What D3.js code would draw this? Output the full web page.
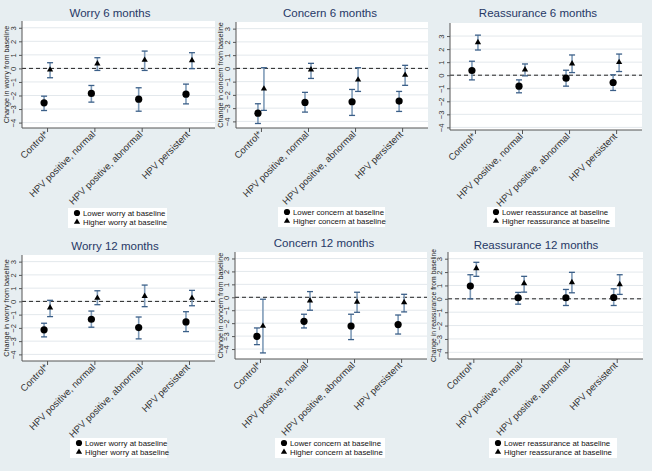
<!DOCTYPE html>
<html lang="en">
<head>
<meta charset="UTF-8">
<title>HPV worry, concern and reassurance</title>
<script src="https://d3js.org/d3.v7.min.js"></script>
<style>
    body { margin: 0; background: #e7eef1; }
    svg { display: block; }
    text { font-family: "Liberation Sans", Arial, sans-serif; }
</style>
</head>
<body>
<script>
    // categories on the x axis
    const categories = ["Control*", "HPV positive, normal", "HPV positive, abnormal", "HPV persistent"];

    // each row: [estimate, lower CI, upper CI]
    const worry6Lower = [[-2.54, -3.11, -2.05], [-1.85, -2.49, -1.26], [-2.27, -3.16, -1.43], [-1.90, -2.62, -1.16]];
    const worry6Higher = [[-0.10, -0.69, 0.42], [0.35, -0.15, 0.79], [0.62, -0.15, 1.28], [0.59, -0.02, 1.16]];
    const concern6Lower = [[-3.38, -4.16, -2.67], [-2.57, -3.30, -1.81], [-2.52, -3.55, -1.59], [-2.47, -3.25, -1.74]];
    const concern6Higher = [[-1.54, -3.17, 0.05], [-0.10, -0.76, 0.38], [-0.86, -1.74, 0.05], [-0.50, -1.28, 0.23]];
    const reassure6Lower = [[0.36, -0.36, 1.07], [-0.84, -1.35, -0.36], [-0.23, -0.84, 0.38], [-0.56, -1.17, 0.03]];
    const reassure6Higher = [[2.51, 1.93, 3.07], [0.43, -0.05, 0.86], [0.89, 0.20, 1.55], [0.99, 0.28, 1.62]];
    const worry12Lower = [[-2.15, -2.68, -1.65], [-1.35, -1.95, -0.73], [-1.98, -2.83, -1.18], [-1.55, -2.28, -0.78]];
    const worry12Higher = [[-0.48, -1.15, 0.08], [0.25, -0.25, 0.80], [0.40, -0.40, 1.23], [0.25, -0.33, 0.83]];
    const concern12Lower = [[-3.02, -3.66, -2.37], [-1.86, -2.37, -1.31], [-2.22, -3.27, -1.31], [-2.11, -2.84, -1.37]];
    const concern12Higher = [[-2.22, -4.30, -0.15], [-0.26, -1.00, 0.44], [-0.36, -1.16, 0.39], [-0.39, -1.13, 0.23]];
    const reassure12Lower = [[0.95, 0.00, 1.80], [0.08, -0.40, 0.48], [0.08, -0.50, 0.70], [0.10, -0.50, 0.75]];
    const reassure12Higher = [[2.28, 1.68, 2.73], [1.15, 0.50, 1.68], [1.23, 0.45, 1.98], [1.08, 0.33, 1.80]];

    const yTicks = [-4, -3, -2, -1, 0, 1, 2, 3];

    // panel layout (pixel boxes)
    const panels = [
        { title: "Worry 6 months", word: "worry", lower: worry6Lower, higher: worry6Higher,
          l: 22, r: 215, t: 21, b: 128, dom: [-4.4, 3.5], tx: 110, ty: 17, yl: 6, lgx: 68, lgy: 208, lgw: 99 },
        { title: "Concern 6 months", word: "concern", lower: concern6Lower, higher: concern6Higher,
          l: 236, r: 428, t: 22, b: 128, dom: [-4.5, 3.5], tx: 330, ty: 17, yl: 220, lgx: 278, lgy: 207, lgw: 107 },
        { title: "Reassurance 6 months", word: "reassurance", lower: reassure6Lower, higher: reassure6Higher,
          l: 450, r: 642, t: 23, b: 130, dom: [-4.2, 4.0], tx: 538, ty: 17, yl: null, lgx: 487, lgy: 207, lgw: 128 },
        { title: "Worry 12 months", word: "worry", lower: worry12Lower, higher: worry12Higher,
          l: 22, r: 215, t: 255, b: 361, dom: [-4.5, 3.5], tx: 115, ty: 250, yl: 6, lgx: 70, lgy: 438, lgw: 97 },
        { title: "Concern 12 months", word: "concern", lower: concern12Lower, higher: concern12Higher,
          l: 235, r: 427, t: 252, b: 359, dom: [-4.77, 3.5], tx: 324, ty: 247, yl: 220, lgx: 275, lgy: 438, lgw: 110 },
        { title: "Reassurance 12 months", word: "reassurance", lower: reassure12Lower, higher: reassure12Higher,
          l: 448, r: 643, t: 252, b: 359, dom: [-4.5, 3.5], tx: 536, ty: 249, yl: 433, lgx: 489, lgy: 438, lgw: 128 }
    ];

    const width = 652, height = 471;
    const svg = d3.select("body").append("svg")
        .attr("width", width)
        .attr("height", height);

    svg.append("rect").attr("width", width).attr("height", height).attr("fill", "#e7eef1");

    const barColor = "#7f9bb8";
    const capColor = "#3b5f88";
    const triangle = d3.symbol().type(d3.symbolTriangle).size(17);

    panels.forEach(p => {
        const g = svg.append("g");
        const x = d3.scaleLinear().domain([0.47, 4.55]).range([p.l, p.r]);
        const y = d3.scaleLinear().domain(p.dom).range([p.b, p.t]);

        // plot region
        g.append("rect")
            .attr("x", p.l).attr("y", p.t)
            .attr("width", p.r - p.l).attr("height", p.b - p.t)
            .attr("fill", "white");

        // grid
        g.selectAll(".grid").data(yTicks).enter().append("line")
            .attr("x1", p.l).attr("x2", p.r)
            .attr("y1", d => y(d)).attr("y2", d => y(d))
            .attr("stroke", "#e3e8ec").attr("stroke-width", 1);

        // zero reference
        g.append("line")
            .attr("x1", p.l).attr("x2", p.r)
            .attr("y1", y(0)).attr("y2", y(0))
            .attr("stroke", "#222").attr("stroke-width", 1)
            .attr("stroke-dasharray", "4,3");

        // y axis
        const yAxis = g.append("g")
            .attr("transform", `translate(${p.l},0)`)
            .call(d3.axisLeft(y).tickValues(yTicks).tickSize(3).tickSizeOuter(0));
        yAxis.select(".domain").attr("stroke", "#555").attr("d", `M0,${p.t}V${p.b}`);
        yAxis.selectAll(".tick line").attr("stroke", "#555");
        yAxis.selectAll(".tick text")
            .attr("font-size", 7.6).attr("fill", "#333")
            .attr("text-anchor", "middle")
            .attr("x", 0).attr("dy", 0)
            .attr("transform", "translate(-8,0) rotate(-90)")
            .attr("dominant-baseline", "middle");

        // x axis
        const xAxis = g.append("g")
            .attr("transform", `translate(0,${p.b})`)
            .call(d3.axisBottom(x).tickValues([1, 2, 3, 4]).tickSize(4).tickSizeOuter(0)
                .tickFormat(d => categories[d - 1]));
        xAxis.select(".domain").attr("stroke", "#555").attr("d", `M${p.l},0H${p.r}`);
        xAxis.selectAll(".tick line").attr("stroke", "#555");
        xAxis.selectAll(".tick text")
            .attr("font-size", 9.5).attr("fill", "#333")
            .attr("text-anchor", "end")
            .attr("x", 0).attr("y", 0).attr("dy", 0)
            .attr("transform", "translate(1,7) rotate(-45)");

        // title
        g.append("text")
            .attr("x", p.tx).attr("y", p.ty)
            .attr("text-anchor", "middle")
            .attr("font-size", 11.5).attr("fill", "#263866")
            .text(p.title);

        if (p.yl !== null) {
            g.append("text")
                .attr("transform", `translate(${p.yl + 2.5},${(p.t + p.b) / 2}) rotate(-90)`)
                .attr("text-anchor", "middle")
                .attr("font-size", p.word === "reassurance" ? 6.8 : 7.2).attr("fill", "#222")
                .text(`Change in ${p.word} from baseline`);
        }

        const series = [
            { data: p.lower, dx: -3, kind: "circle" },
            { data: p.higher, dx: 3, kind: "triangle" }
        ];

        series.forEach(s => {
            const sg = g.append("g");
            const pts = sg.selectAll("g").data(s.data).enter().append("g")
                .attr("transform", (d, i) => `translate(${x(i + 1) + s.dx},0)`);
            pts.append("line")
                .attr("y1", d => y(d[1])).attr("y2", d => y(d[2]))
                .attr("stroke", barColor).attr("stroke-width", 1.6);
            pts.append("line")
                .attr("x1", -3).attr("x2", 3)
                .attr("y1", d => y(d[1])).attr("y2", d => y(d[1]))
                .attr("stroke", capColor).attr("stroke-width", 1.3);
            pts.append("line")
                .attr("x1", -3).attr("x2", 3)
                .attr("y1", d => y(d[2])).attr("y2", d => y(d[2]))
                .attr("stroke", capColor).attr("stroke-width", 1.3);
            if (s.kind === "circle") {
                pts.append("circle").attr("cy", d => y(d[0])).attr("r", 3.6).attr("fill", "#000");
            } else {
                pts.append("path").attr("d", triangle)
                    .attr("transform", d => `translate(0,${y(d[0])})`).attr("fill", "#000");
            }
        });

        // legend
        const lg = g.append("g").attr("transform", `translate(${p.lgx},${p.lgy})`);
        lg.append("rect").attr("width", p.lgw).attr("height", 20).attr("fill", "white");
        lg.append("circle").attr("cx", 9).attr("cy", 5).attr("r", 3.1).attr("fill", "#000");
        lg.append("path").attr("d", d3.symbol().type(d3.symbolTriangle).size(17))
            .attr("transform", "translate(9,14)").attr("fill", "#000");
        lg.append("text").attr("x", 15).attr("y", 7.8).attr("font-size", 7.8).attr("fill", "#111")
            .text(`Lower ${p.word} at baseline`);
        lg.append("text").attr("x", 15).attr("y", 16.8).attr("font-size", 7.8).attr("fill", "#111")
            .text(`Higher ${p.word} at baseline`);
    });
</script>
</body>
</html>
